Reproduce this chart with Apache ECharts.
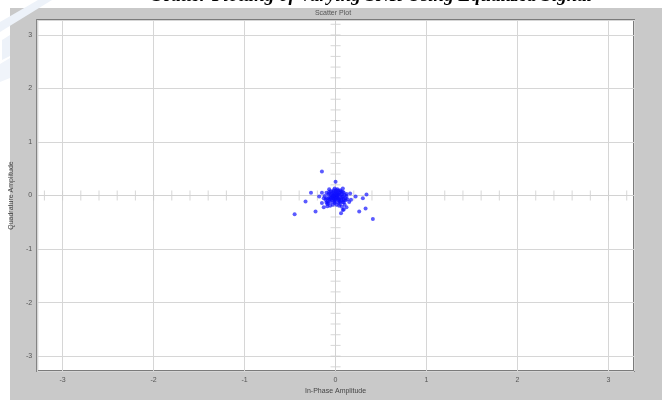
<!DOCTYPE html>
<html>
<head>
<meta charset="utf-8">
<script src="https://cdn.jsdelivr.net/npm/echarts@6/dist/echarts.min.js"></script>
<style>
  html, body { margin: 0; padding: 0; background: #ffffff; }
  #chart { width: 662px; height: 400px; }
</style>
</head>
<body>
<div id="chart"></div>
<script>
// Axis extent and labelled ticks (same on both axes)
const axisLimit = 3.28;
const majorTicks = [-3, -2, -1, 0, 1, 2, 3];

// Small marks along the zero crosshair, every 0.2
const minorTicks = [
  -3.2, -3.0, -2.8, -2.6, -2.4, -2.2, -2.0, -1.8, -1.6, -1.4, -1.2, -1.0,
  -0.8, -0.6, -0.4, -0.2, 0.2, 0.4, 0.6, 0.8, 1.0, 1.2, 1.4, 1.6, 1.8,
  2.0, 2.2, 2.4, 2.6, 2.8, 3.0, 3.2
];

// Received symbols after equalization: [in-phase, quadrature]
const samples = [
  [0.01,-0.03],[-0.02,-0.01],[0.03,-0.05],[-0.03,-0.05],[0.04,0.00],[0.00,-0.08],[-0.05,0.01],[0.02,0.03],[-0.01,-0.10],[0.06,-0.06],
  [-0.04,0.04],[0.05,0.06],[-0.07,-0.08],[0.08,-0.02],[0.00,0.08],[-0.05,-0.12],[0.03,-0.13],[0.09,-0.09],[-0.08,0.02],[0.06,0.08],
  [-0.02,-0.03],[0.03,0.02],[-0.01,0.02],[0.02,-0.04],[-0.06,-0.03],[0.07,0.03],[-0.08,-0.14],[0.04,-0.10],[-0.10,-0.05],[0.10,0.01],
  [0.01,0.05],[-0.03,0.07],[0.09,-0.13],[-0.09,-0.16],[0.05,-0.16],[-0.02,0.10],[0.11,-0.05],[-0.10,0.05],[0.03,0.09],[-0.06,-0.07],
  [0.04,-0.07],[-0.02,-0.07],[0.00,0.00],[0.02,-0.01],[-0.04,-0.09],[0.07,-0.03],[-0.01,-0.14],[0.09,0.05],[-0.07,0.04],[0.04,0.05],
  [-0.09,-0.11],[0.11,-0.09],[-0.11,-0.08],[0.01,-0.17],[0.08,-0.12],[-0.05,0.08],[0.05,0.10],[-0.12,-0.01],[0.12,-0.01],[-0.03,-0.17],
  [0.02,0.12],[0.10,-0.17],[-0.10,-0.13],[0.06,0.01],[-0.02,0.04],[0.00,-0.05],[-0.07,0.07],[0.08,0.07],[0.04,-0.19],[-0.06,-0.19],
  [0.12,0.03],[-0.13,-0.05],[0.13,-0.07],[-0.01,0.13],[0.07,-0.21],[-0.09,-0.20],[0.02,0.01],[-0.04,-0.02],[0.05,-0.12],[-0.02,-0.05],
  [0.01,-0.06],[-0.03,0.00],[0.03,-0.08],[-0.05,-0.04],[0.06,-0.09],[0.00,0.04],[-0.01,-0.12],[0.01,0.10],[-0.08,-0.05],[0.09,-0.06],
  [0.15,-0.12],[-0.15,-0.14],[0.16,0.04],[-0.15,0.05],[0.17,-0.08],[0.08,0.13],[-0.07,0.12],[0.12,-0.22],[-0.13,-0.22],[0.09,-0.26],
  [0.22,-0.02],[-0.18,-0.02],
  [-0.15,0.45],[-0.45,-0.35],[-0.33,-0.11],[-0.27,0.05],[0.30,-0.05],[0.33,-0.24],[0.26,-0.30],[0.00,0.26],
  [0.41,-0.44],[-0.22,-0.30],[0.06,-0.33],[0.34,0.02],[0.08,-0.27]
];

const chart = echarts.init(document.getElementById('chart'), null, { renderer: 'canvas' });

const labelFont = 'Liberation Sans';
const tickLabel = v => {
  const r = Math.round(v);
  return Math.abs(v - r) < 1e-6 && majorTicks.indexOf(r) >= 0 ? String(r) : '';
};

const valueAxis = (name, gap) => ({
  type: 'value',
  min: -axisLimit,
  max: axisLimit,
  splitNumber: 6,
  name: name,
  nameLocation: 'middle',
  nameGap: gap,
  nameTextStyle: { fontSize: 7, color: '#444', fontFamily: labelFont },
  axisLine: { show: false },
  axisTick: { show: false },
  axisLabel: {
    fontSize: 7, color: '#555', fontFamily: labelFont, margin: 5,
    showMinLabel: false, showMaxLabel: false, formatter: tickLabel
  },
  splitLine: { show: true, lineStyle: { color: '#d6d6d6', width: 1 } }
});

chart.setOption({
  backgroundColor: '#ffffff',
  animation: false,
  graphic: [
    { type: 'rect', z: -100, shape: { x: 10, y: 8, width: 652, height: 392 }, style: { fill: '#c9c9c9' } },
    { type: 'polygon', z: -90, shape: { points: [[0, 22], [38, 0], [52, 0], [0, 32]] }, style: { fill: '#edf2f9' } },
    { type: 'polygon', z: -90, shape: { points: [[2, 40], [10, 35], [10, 56], [2, 60]] }, style: { fill: '#edf2f9' } },
    { type: 'polygon', z: -90, shape: { points: [[0, 64], [10, 58], [10, 78], [0, 82]] }, style: { fill: '#f0f4fa' } },
    {
      type: 'text', x: 592, y: 6, z: 10,
      style: {
        text: 'Scatter Plotting of Varying SNR Using Equalized Signal',
        align: 'right', verticalAlign: 'bottom',
        fontSize: 19, fontWeight: 'bold', fontStyle: 'italic',
        fontFamily: 'Liberation Serif', fill: '#000'
      }
    },
    {
      type: 'text', x: 333, y: 13, z: 10,
      style: {
        text: 'Scatter Plot', align: 'center', verticalAlign: 'middle',
        fontSize: 7, fontFamily: labelFont, fill: '#555'
      }
    }
  ],
  grid: {
    left: 33, right: 28, top: 20, bottom: 19,
    show: true, backgroundColor: '#ffffff',
    borderColor: '#7b7b7b', borderWidth: 2
  },
  xAxis: valueAxis('In-Phase Amplitude', 11),
  yAxis: valueAxis('Quadrature Amplitude', 14),
  series: [
    {
      type: 'scatter',
      silent: true,
      symbol: 'rect',
      symbolSize: [1, 10],
      itemStyle: { color: '#cdcdcd' },
      data: minorTicks.map(v => [v, 0]),
      z: 1,
      markLine: {
        silent: true,
        symbol: 'none',
        label: { show: false },
        lineStyle: { color: '#d2d2d2', width: 1, type: 'solid' },
        data: [{ xAxis: 0 }, { yAxis: 0 }]
      }
    },
    {
      type: 'scatter',
      silent: true,
      symbol: 'rect',
      symbolSize: [10, 1],
      itemStyle: { color: '#cdcdcd' },
      data: minorTicks.map(v => [0, v]),
      z: 1
    },
    {
      type: 'scatter',
      symbol: 'circle',
      symbolSize: 4,
      itemStyle: { color: 'rgba(15,15,255,0.85)' },
      data: samples,
      z: 5
    }
  ]
});
</script>
</body>
</html>
